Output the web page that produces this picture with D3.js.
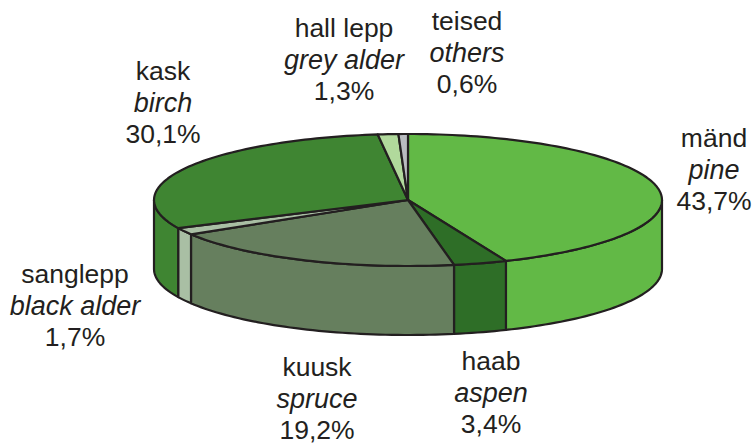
<!DOCTYPE html>
<meta charset="utf-8">
<style>
  html, body { margin: 0; background: #fff; }
  text { font-family: "Liberation Sans", Arial, sans-serif; font-size: 26.5px; fill: #231f20; }
</style>
<script src="https://d3js.org/d3.v7.min.js"></script>
<div id="my_dataviz"></div>
<script>

// the data
var names = ["mänd", "haab", "kuusk", "sanglepp", "kask", "hall lepp", "teised"];
var latin = ["pine", "aspen", "spruce", "black alder", "birch", "grey alder", "others"];
var shares = [43.7, 3.4, 19.2, 1.7, 30.1, 1.3, 0.6];
var colors = ["#62b946", "#2e6e27", "#667f5e", "#a9bfa4", "#3f8532", "#b1d99c", "#b9bcc0"];

// where the three text lines of each label start (middle x, first baseline)
var labelX = [714, 491, 317, 75, 163, 344, 467];
var labelY = [147, 370, 376, 283, 80, 37, 30];

var cx = 408, cy = 200, rx = 254, ry = 66, depth = 69;

var svg = d3.select("#my_dataviz")
  .append("svg")
    .attr("width", 754)
    .attr("height", 444)
    .style("display", "block");

var slices = d3.pie().sort(null)(shares);

// scales that squash the circle into the tilted ellipse
var sx = d3.scaleLinear().domain([-1, 1]).range([cx - rx, cx + rx]);
var sy = d3.scaleLinear().domain([-1, 1]).range([cy + ry, cy - ry]);

var line = d3.line();

function rim(a0, a1, drop) {
  var n = Math.max(2, Math.ceil((a1 - a0) * 40));
  return d3.range(n + 1).map(function(i) {
    var a = a0 + (a1 - a0) * i / n;
    return [sx(Math.sin(a)), sy(Math.cos(a)) + drop];
  });
}

// walls first, only the front half of the rim can be seen
svg.append("g")
  .selectAll("path")
  .data(slices.filter(function(d) { return d.endAngle > Math.PI / 2 && d.startAngle < 3 * Math.PI / 2; }))
  .enter()
  .append("path")
    .attr("d", function(d) {
      var a0 = Math.max(d.startAngle, Math.PI / 2);
      var a1 = Math.min(d.endAngle, 3 * Math.PI / 2);
      return line(rim(a0, a1, 0).concat(rim(a0, a1, depth).reverse())) + "Z";
    })
    .style("fill", function(d) { return colors[d.index]; })
    .style("stroke", "#231f20")
    .style("stroke-width", 2.2)
    .style("stroke-linejoin", "round");

// top face
svg.append("g")
  .selectAll("path")
  .data(slices)
  .enter()
  .append("path")
    .attr("d", function(d) {
      return line([[sx(0), sy(0)]].concat(rim(d.startAngle, d.endAngle, 0))) + "Z";
    })
    .style("fill", function(d) { return colors[d.index]; })
    .style("stroke", "#231f20")
    .style("stroke-width", 2.2)
    .style("stroke-linejoin", "round");

// labels
var labels = svg.append("g")
  .selectAll("text")
  .data(names)
  .enter()
  .append("text")
    .attr("text-anchor", "middle")
    .attr("transform", function(d, i) { return "translate(" + labelX[i] + "," + labelY[i] + ")"; });

labels.append("tspan")
    .attr("x", 0)
    .text(function(d) { return d; });
labels.append("tspan")
    .attr("x", 0)
    .attr("dy", 31.5)
    .style("font-style", "italic")
    .style("font-size", "27px")
    .text(function(d, i) { return latin[i]; });
labels.append("tspan")
    .attr("x", 0)
    .attr("dy", 31.5)
    .text(function(d, i) { return String(shares[i]).replace(".", ",") + "%"; });
</script>
